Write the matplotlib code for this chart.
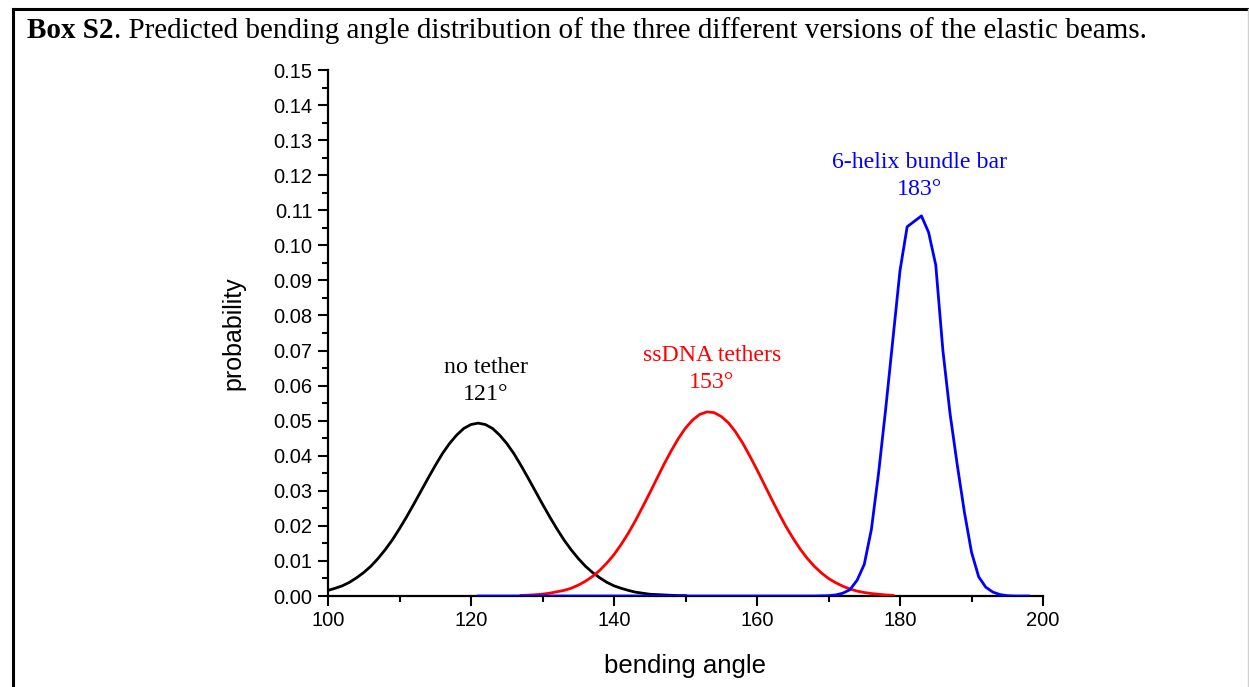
import matplotlib
matplotlib.use("Agg")
import matplotlib.pyplot as plt
from matplotlib.lines import Line2D
from matplotlib.ticker import MultipleLocator, FormatStrFormatter

# ---------------- data ----------------
black_x = list(range(100, 151))
black_y = [0.0016, 0.0022, 0.0029, 0.0039, 0.0052, 0.0067, 0.0085, 0.0107, 0.0132, 0.0160,
           0.0192, 0.0226, 0.0262, 0.0299, 0.0336, 0.0372, 0.0406, 0.0435, 0.0459, 0.0478,
           0.0489, 0.0493, 0.0489, 0.0478, 0.0459, 0.0435, 0.0406, 0.0372, 0.0336, 0.0299,
           0.0262, 0.0226, 0.0192, 0.0160, 0.0132, 0.0107, 0.0085, 0.0067, 0.0052, 0.0039,
           0.0029, 0.0022, 0.0016, 0.0011, 0.0008, 0.0005, 0.0004, 0.0003, 0.0002, 0.0001,
           0.0001]

red_x = list(range(127, 180))
red_y = [0.00016, 0.00024, 0.00036, 0.00053, 0.0008, 0.0012, 0.0016, 0.0022, 0.0031, 0.0042,
         0.0056, 0.0073, 0.0094, 0.0118, 0.0147, 0.0179, 0.0215, 0.0254, 0.0294, 0.0335,
         0.0376, 0.0414, 0.0449, 0.0479, 0.0502, 0.0518, 0.0525, 0.0523, 0.0512, 0.0494,
         0.0468, 0.0436, 0.0399, 0.0360, 0.0319, 0.0278, 0.0238, 0.0200, 0.0166, 0.0135,
         0.0108, 0.0085, 0.0066, 0.0050, 0.0038, 0.0028, 0.0020, 0.0014, 0.0010, 0.0007,
         0.0005, 0.0003, 0.0002]

blue_x = [121, 130, 140, 150, 160, 168, 170, 171, 172, 173, 174, 175, 176, 177, 178, 179,
          180, 181, 183, 184, 185, 186, 187, 188, 189, 190, 191, 192, 193, 194, 195, 196, 198]
blue_y = [0.0, 0.0, 0.0, 0.0, 0.0, 0.0, 0.0001, 0.0003, 0.0008, 0.0018, 0.0045, 0.0090,
          0.0190, 0.0350, 0.0534, 0.0731, 0.0928, 0.1053, 0.1084, 0.1037, 0.0944, 0.0700,
          0.0520, 0.0375, 0.0240, 0.0125, 0.0055, 0.0025, 0.0011, 0.0004, 0.0001, 0.0, 0.0]

series_labels = ["no tether\n121°", "ssDNA tethers\n153°", "6-helix bundle bar\n183°"]
label_pos = [(122.1, 0.0613), (153.7, 0.0647), (182.7, 0.1198)]
series_colors = ["black", "#ff0000", "#0000ff"]

x_ticks = [100, 120, 140, 160, 180, 200]
title_bold = "Box S2"
title_rest = ". Predicted bending angle distribution of the three different versions of the elastic beams."

# ---------------- figure ----------------
W, H = 1249, 687
fig = plt.figure(figsize=(W / 100, H / 100), dpi=100)
fig.patch.set_facecolor("white")

# box frame
fig.add_artist(Line2D([13 / W, 13 / W], [0, 1 - 9 / H], color="black", lw=2.2))
fig.add_artist(Line2D([13 / W, 1248 / W], [1 - 9 / H, 1 - 9 / H], color="black", lw=2.2))
fig.add_artist(Line2D([1247.5 / W, 1247.5 / W], [0, 1 - 9 / H], color="#d0d0d0", lw=1.0))

serif = ["Liberation Serif", "DejaVu Serif"]
sans = ["Liberation Sans", "DejaVu Sans"]

# title (bold part + regular part)
t1 = fig.text(27 / W, 1 - 31 / H, title_bold, family=serif, fontsize=21,
              fontweight="bold", va="center", ha="left")
fig.canvas.draw()
r = fig.canvas.get_renderer()
bb = t1.get_window_extent(renderer=r)
fig.text(bb.x1 / W, 1 - 31 / H, title_rest, family=serif, fontsize=21,
         va="center", ha="left")

ax = fig.add_axes([328 / W, 1 - 596 / H, (1043 - 328) / W, (596 - 70) / H])
ax.plot(black_x, black_y, color=series_colors[0], lw=2.0, zorder=3)
ax.plot(red_x, red_y, color=series_colors[1], lw=2.0, zorder=3)
ax.plot(blue_x, blue_y, color=series_colors[2], lw=2.0, zorder=4)

for (lx, ly), txt, c in zip(label_pos, series_labels, series_colors):
    ax.text(lx, ly, txt, color=c, family=serif, fontsize=17.2, ha="center",
            va="center", linespacing=1.4)

ax.set_xlim(100, 200)
ax.set_ylim(0, 0.15)
ax.set_xticks(x_ticks)
ax.xaxis.set_minor_locator(MultipleLocator(10))
ax.yaxis.set_major_locator(MultipleLocator(0.01))
ax.yaxis.set_minor_locator(MultipleLocator(0.005))
ax.yaxis.set_major_formatter(FormatStrFormatter("%.2f"))

for s in ["top", "right"]:
    ax.spines[s].set_visible(False)
for s in ["left", "bottom"]:
    ax.spines[s].set_linewidth(1.6)

ax.tick_params(which="major", direction="out", length=7, width=1.5, labelsize=14.5, pad=4)
ax.tick_params(which="minor", direction="out", length=4, width=1.5)
for lab in ax.get_xticklabels() + ax.get_yticklabels():
    lab.set_family(sans)

ax.set_xlabel("bending angle", family=sans, fontsize=18.5, labelpad=17)
ax.set_ylabel("probability", family=sans, fontsize=18, labelpad=20)

fig.savefig("out.png", dpi=100, facecolor="white")
